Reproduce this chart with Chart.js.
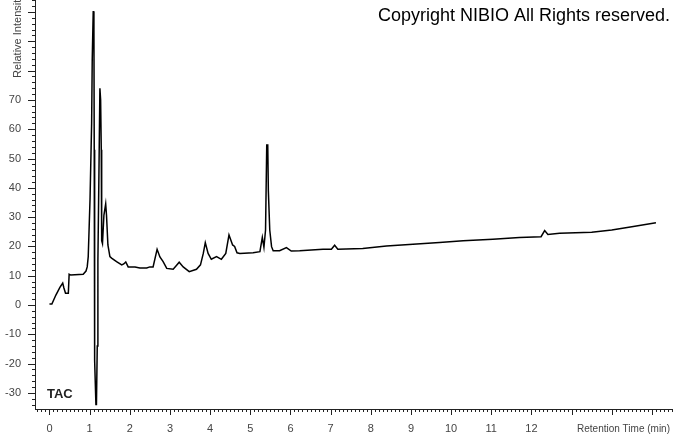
<!DOCTYPE html>
<html><head><meta charset="utf-8">
<script src="https://cdn.jsdelivr.net/npm/chart.js@4.4.0/dist/chart.umd.min.js"></script>
<style>html,body{margin:0;padding:0;background:#fff;overflow:hidden}#wrap{width:674px;height:434px}</style>
</head><body><div id="wrap"><canvas id="c" width="674" height="434"></canvas></div>
<script>
const times = [0, 0.06, 0.16, 0.26, 0.33, 0.36, 0.40, 0.47, 0.49, 0.53, 0.84, 0.91, 0.94, 0.965, 1.01, 1.05, 1.065, 1.09, 1.107, 1.115, 1.12, 1.13, 1.157, 1.17, 1.19, 1.206, 1.23, 1.256, 1.274, 1.29, 1.30, 1.32, 1.356, 1.40, 1.42, 1.455, 1.505, 1.547, 1.67, 1.80, 1.85, 1.90, 1.96, 2.13, 2.25, 2.42, 2.50, 2.58, 2.68, 2.75, 2.83, 2.92, 3.08, 3.15, 3.23, 3.33, 3.48, 3.66, 3.76, 3.83, 3.88, 3.95, 4.03, 4.16, 4.28, 4.39, 4.47, 4.56, 4.61, 4.67, 4.74, 5.07, 5.24, 5.30, 5.34, 5.38, 5.41, 5.435, 5.45, 5.485, 5.53, 5.57, 5.73, 5.90, 6.02, 6.23, 6.81, 7.02, 7.10, 7.18, 7.8, 8.39, 9.05, 9.71, 10.3, 11.04, 11.7, 12.24, 12.33, 12.41, 12.7, 13.5, 14.0, 14.5, 15.1];
const intensity = [0.3, 0.3, 3.4, 6, 7.5, 5.8, 4, 4, 10.5, 10.2, 10.5, 11.6, 13, 16.4, 36, 62, 83.6, 100.3, 94, 53, 5, -19, -34, -34, -14, 15, 42.7, 74, 70, 53, 22, 21, 30.7, 34.5, 30.7, 20.5, 16.5, 16, 14.8, 13.7, 14, 14.7, 13, 13, 12.6, 12.6, 13, 13, 19, 16.4, 14.8, 12.5, 12.2, 13.3, 14.6, 13, 11.4, 12.2, 13.7, 17.6, 21.3, 17.6, 15.6, 16.5, 15.6, 17.6, 23.9, 20.5, 20, 17.8, 17.6, 17.8, 18.2, 23.1, 19.7, 25.6, 54.6, 54.6, 39, 25.6, 19.9, 18.5, 18.5, 19.6, 18.4, 18.5, 19, 19, 20.4, 19, 19.3, 20.1, 20.7, 21.3, 21.9, 22.4, 23, 23.3, 25.4, 24.1, 24.5, 24.8, 25.6, 26.7, 28.1];
const xTickValues = [0,1,2,3,4,5,6,7,8,9,10,11,12];
const yTickValues = [-30,-20,-10,0,10,20,30,40,50,60,70];
const xTitle = 'Retention Time (min)';
const yTitle = 'Relative Intensity';
const traceLabel = 'TAC';
const copyrightText = 'Copyright NIBIO All Rights reserved.';

const FONT = '"Liberation Sans", Arial, sans-serif';

const decor = {
  id: 'decor',
  afterDraw(chart) {
    const ctx = chart.ctx;
    const xs = chart.scales.x, ys = chart.scales.y;
    const ca = chart.chartArea;
    ctx.save();
    ctx.strokeStyle = '#222';
    ctx.lineWidth = 1;
    ctx.beginPath();
    for (let i = Math.ceil(xs.min * 10); i <= Math.floor(xs.max * 10); i++) {
      const px = Math.round(xs.getPixelForValue(i / 10)) + 0.5;
      const len = (i % 10 === 0) ? 6 : 3;
      ctx.moveTo(px, ca.bottom);
      ctx.lineTo(px, ca.bottom + len);
    }
    for (let v = Math.ceil(ys.min / 2) * 2; v <= ys.max; v += 2) {
      const py = Math.round(ys.getPixelForValue(v)) + 0.5;
      const len = (v % 10 === 0) ? 7 : 3;
      ctx.moveTo(ca.left, py);
      ctx.lineTo(ca.left - len, py);
    }
    ctx.stroke();

    ctx.fillStyle = '#000';
    ctx.font = '18px ' + FONT;
    ctx.textAlign = 'left';
    ctx.textBaseline = 'alphabetic';
    ctx.fillText(copyrightText, 378, 21);

    ctx.fillStyle = '#222';
    ctx.font = 'bold 13px ' + FONT;
    ctx.fillText(traceLabel, 47, 398);

    ctx.fillStyle = '#444';
    ctx.font = '10px ' + FONT;
    ctx.textAlign = 'right';
    ctx.fillText(xTitle, 670, 432);

    ctx.save();
    ctx.translate(21, 78);
    ctx.rotate(-Math.PI / 2);
    ctx.textAlign = 'left';
    ctx.font = '11px ' + FONT;
    ctx.fillText(yTitle, 0, 0);
    ctx.restore();
    ctx.restore();
  }
};

function noPad(s) { s.paddingTop = 0; s.paddingBottom = 0; s.paddingLeft = 0; s.paddingRight = 0; }

new Chart(document.getElementById('c'), {
  type: 'line',
  data: {
    datasets: [{
      label: traceLabel,
      data: times.map((t, i) => ({ x: t, y: intensity[i] })),
      borderColor: '#000',
      borderWidth: 1.5,
      pointRadius: 0,
      tension: 0,
      fill: false
    }]
  },
  options: {
    responsive: false,
    animation: false,
    devicePixelRatio: 1,
    layout: { autoPadding: false, padding: { left: 0, right: 2, top: 0, bottom: 0 } },
    plugins: { legend: { display: false }, tooltip: { enabled: false } },
    scales: {
      x: {
        type: 'linear',
        min: -0.36,
        max: 15.5,
        afterBuildTicks: s => { s.ticks = xTickValues.map(v => ({ value: v })); },
        afterFit: s => { s.height = 25; noPad(s); },
        ticks: { font: { size: 11, family: FONT }, color: '#444', maxRotation: 0, autoSkip: false, padding: 13 },
        grid: { display: true, drawOnChartArea: false, drawTicks: false },
        border: { display: true, color: '#222', width: 1 }
      },
      y: {
        type: 'linear',
        min: -35.5,
        max: 104.1,
        afterBuildTicks: s => { s.ticks = yTickValues.map(v => ({ value: v })); },
        afterFit: s => { s.width = 35; noPad(s); },
        ticks: { font: { size: 11, family: FONT }, color: '#444', padding: 14 },
        grid: { display: true, drawOnChartArea: false, drawTicks: false },
        border: { display: true, color: '#222', width: 1 }
      }
    }
  },
  plugins: [decor]
});
</script>
</body></html>
